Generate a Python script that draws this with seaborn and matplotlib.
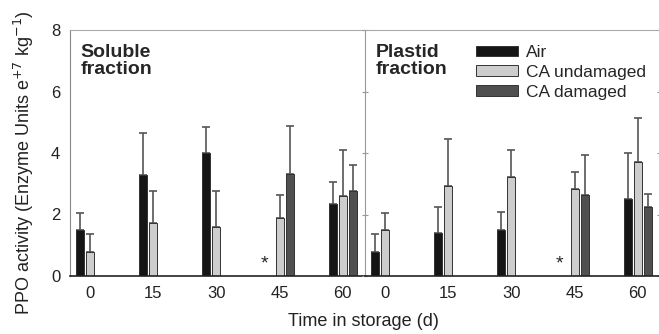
import numpy as np
import pandas as pd
import matplotlib
matplotlib.use("Agg")
import matplotlib.pyplot as plt
import seaborn as sns
from matplotlib.patches import Patch

sns.set_style("white")
plt.rcParams['font.family'] = ['Liberation Sans', 'DejaVu Sans']

# ---------------- data ----------------
days = ["0", "15", "30", "45", "60"]
treatments = ["Air", "CA undamaged", "CA damaged"]
panels = ["Soluble\nfraction", "Plastid\nfraction"]

sol_air = [1.48, 3.27, 4.00, np.nan, 2.35]
sol_air_err = [2.04, 4.65, 4.83, np.nan, 3.05]
sol_cau = [0.77, 1.72, 1.58, 1.90, 2.60]
sol_cau_err = [1.37, 2.78, 2.78, 2.65, 4.10]
sol_cad = [np.nan, np.nan, np.nan, 3.33, 2.75]
sol_cad_err = [np.nan, np.nan, np.nan, 4.88, 3.60]

pla_air = [0.77, 1.40, 1.51, np.nan, 2.51]
pla_air_err = [1.37, 2.23, 2.07, np.nan, 4.01]
pla_cau = [1.48, 2.92, 3.22, 2.84, 3.71]
pla_cau_err = [2.04, 4.45, 4.09, 3.39, 5.15]
pla_cad = [np.nan, np.nan, np.nan, 2.64, 2.23]
pla_cad_err = [np.nan, np.nan, np.nan, 3.93, 2.68]

# days where the Air treatment has no value (marked with *)
star_days = ["45"]

colors = {"Air": "#151515", "CA undamaged": "#cdcdcd", "CA damaged": "#505050"}

def make_df(a, ae, u, ue, d, de):
    rows = []
    for t, vals, errs in zip(treatments, [a, u, d], [ae, ue, de]):
        for day, v, e in zip(days, vals, errs):
            rows.append({"day": day, "treatment": t, "value": v, "top": e})
    return pd.DataFrame(rows)

dfs = [make_df(sol_air, sol_air_err, sol_cau, sol_cau_err, sol_cad, sol_cad_err),
       make_df(pla_air, pla_air_err, pla_cau, pla_cau_err, pla_cad, pla_cad_err)]

fig = plt.figure(figsize=(6.59, 3.34), dpi=100)
W, H = 659, 334
bottom = 1 - 276 / H
height = 246 / H
axL = fig.add_axes([70 / W, bottom, 295 / W, height])
axR = fig.add_axes([365 / W, bottom, 295 / W, height])

group_width = 0.474
nh = len(treatments)
step = group_width / nh

for ax, df, title in zip([axL, axR], dfs, panels):
    sns.barplot(data=df.dropna(subset=["value"]), x="day", y="value",
                hue="treatment", order=days, hue_order=treatments,
                palette=colors, width=group_width, gap=0.2, dodge=True,
                errorbar=None, edgecolor="#333333", linewidth=0.7,
                legend=False, ax=ax, zorder=2)
    # error bars (upper only)
    for p in list(ax.patches):
        cx = p.get_x() + p.get_width() / 2
        h = p.get_height()
        idx = int(round(cx))
        hi = int(round((cx - idx) / step)) + 1
        row = df[(df.day == days[idx]) & (df.treatment == treatments[hi])].iloc[0]
        ax.errorbar(cx, h, yerr=[[0], [row.top - h]], fmt="none",
                    ecolor="#555555", elinewidth=1.2, capsize=2.6,
                    capthick=1.2, zorder=1)
    for sd in star_days:
        idx = days.index(sd)
        ax.text(idx - step - 0.08, 0.12, "*", ha="center", va="bottom",
                fontsize=14)
    ax.text(0.035, 0.945, title, transform=ax.transAxes, ha="left", va="top",
            fontsize=14, fontweight="bold", linespacing=1.0)
    ax.set_ylim(0, 8)
    ax.set_xlim(-0.316, 4.35)
    ax.set_yticks([0, 2, 4, 6, 8])
    ax.set_xlabel("")
    ax.set_ylabel("")
    ax.tick_params(axis="x", length=0, pad=7, labelsize=12, colors="#222222")
    for s in ax.spines.values():
        s.set_visible(True)
    ax.spines["top"].set_color("#aaaaaa")
    ax.spines["bottom"].set_color("#222222")
    ax.spines["bottom"].set_linewidth(1.2)

axL.spines["left"].set_color("#888888")
axL.spines["right"].set_visible(False)
axL.tick_params(axis="y", direction="in", length=3, pad=7, labelsize=12,
                colors="#888888", labelcolor="#222222")
axR.spines["left"].set_color("#999999")
axR.spines["right"].set_color("#999999")
axR.yaxis.set_ticks_position("both")
axR.tick_params(axis="y", which="both", direction="inout", length=5,
                colors="#999999", labelleft=False, labelright=False)

handles = [Patch(facecolor=colors[t], edgecolor="#333333", linewidth=0.7)
           for t in treatments]
axR.legend(handles, treatments, loc="upper left",
           bbox_to_anchor=(476 / W, 1 - 45 / H), bbox_transform=fig.transFigure,
           frameon=False, fontsize=12.5, handlelength=2.4, handleheight=0.55,
           handletextpad=0.5, labelspacing=0.28, borderpad=0, borderaxespad=0)

fig.text(363 / W, 1 - 322 / H, "Time in storage (d)", ha="center", va="center",
         fontsize=13, color="#222222")
fig.text(24 / W, 1 - 163 / H,
         "PPO activity (Enzyme Units e$^{+7}$ kg$^{-1}$)", rotation=90,
         ha="center", va="center", fontsize=13, color="#222222")

fig.savefig("out.png", dpi=100)
